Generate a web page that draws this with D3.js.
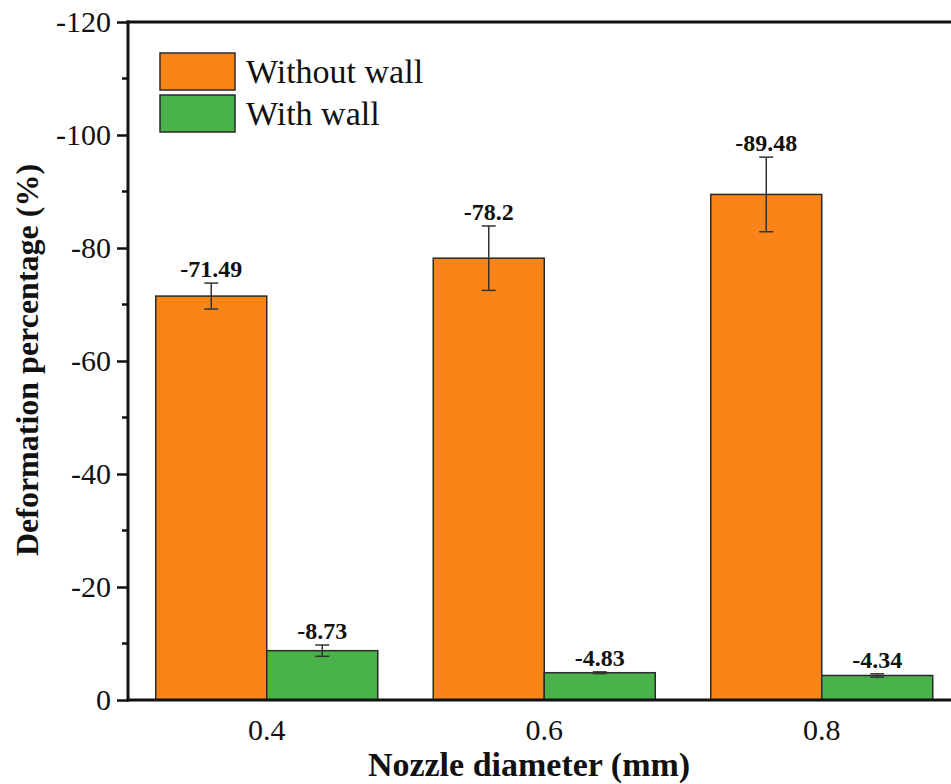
<!DOCTYPE html>
<html>
<head>
<meta charset="utf-8">
<script src="https://cdn.jsdelivr.net/npm/d3@7"></script>
<style>
  html, body { margin: 0; padding: 0; background: #fff; }
  svg { display: block; }
  text { font-family: "Liberation Serif", "Times New Roman", serif; fill: #111; }
</style>
</head>
<body>
<svg id="chart" width="951" height="784"></svg>
<script>
// Nozzle diameters (mm)
const categories = ["0.4", "0.6", "0.8"];
const seriesNames = ["Without wall", "With wall"];
// Mean deformation percentage (%)
const withoutWall = [-71.49, -78.2, -89.48];
const withWall = [-8.73, -4.83, -4.34];
// Standard deviation of each mean
const withoutWallErr = [2.3, 5.7, 6.6];
const withWallErr = [1.0, 0.15, 0.3];
const yTicks = [0, -20, -40, -60, -80, -100, -120];
const colors = ["#F98519", "#4AB24A"];

const svg = d3.select("#chart");
const plotLeft = 128, plotTop = 22, plotBottom = 700;
const plotRight = 128 + 3 * 277.5; // plot runs past the right edge of the page

const x = d3.scaleBand().domain(categories).range([plotLeft, plotRight])
  .paddingInner(0.2).paddingOuter(0.1);
const x1 = d3.scaleBand().domain(seriesNames).range([0, x.bandwidth()]);
const y = d3.scaleLinear().domain([0, -120]).range([plotBottom, plotTop]);

const series = [
  { name: seriesNames[0], values: withoutWall, errs: withoutWallErr, color: colors[0] },
  { name: seriesNames[1], values: withWall, errs: withWallErr, color: colors[1] }
];

const g = svg.append("g");

// bars
series.forEach(s => {
  const grp = g.append("g");
  categories.forEach((c, i) => {
    const v = s.values[i], e = s.errs[i];
    const bx = x(c) + x1(s.name);
    const cx = bx + x1.bandwidth() / 2;
    grp.append("rect")
      .attr("x", bx).attr("y", y(v))
      .attr("width", x1.bandwidth()).attr("height", y(0) - y(v))
      .attr("fill", s.color).attr("stroke", "#2a2a2a").attr("stroke-width", 1.5);
    // error bar
    const hi = y(v - e), lo = y(v + e);
    grp.append("line").attr("x1", cx).attr("x2", cx).attr("y1", hi).attr("y2", lo)
      .attr("stroke", "#333").attr("stroke-width", 1.5);
    [hi, lo].forEach(yy => grp.append("line")
      .attr("x1", cx - 7).attr("x2", cx + 7).attr("y1", yy).attr("y2", yy)
      .attr("stroke", "#333").attr("stroke-width", 1.5));
    // value label
    grp.append("text")
      .attr("x", cx).attr("y", hi - 6)
      .attr("text-anchor", "middle")
      .attr("font-weight", "bold").attr("font-size", 24)
      .text(String(v));
  });
});

// y axis with major and minor ticks
const yAxis = g.append("g").attr("transform", `translate(${plotLeft},0)`)
  .call(d3.axisLeft(y).tickValues(yTicks).tickSize(11).tickPadding(6).tickFormat(d => d === 0 ? "0" : String(d)));
yAxis.select(".domain").remove();
yAxis.selectAll(".tick line").attr("stroke", "#111").attr("stroke-width", 2.5);
yAxis.selectAll(".tick text").attr("font-size", 30).attr("font-family", "Liberation Serif, serif").attr("fill", "#111");
const minor = d3.range(-10, -120, -20);
g.append("g").selectAll("line").data(minor).join("line")
  .attr("x1", plotLeft - 6).attr("x2", plotLeft).attr("y1", d => y(d)).attr("y2", d => y(d))
  .attr("stroke", "#111").attr("stroke-width", 2.5);

// x axis labels
categories.forEach(c => {
  g.append("text")
    .attr("x", x(c) + x.bandwidth() / 2).attr("y", 740)
    .attr("text-anchor", "middle").attr("font-size", 30)
    .text(c);
});

// frame lines
g.append("line").attr("x1", plotLeft).attr("x2", plotLeft).attr("y1", plotTop - 1.5).attr("y2", plotBottom + 1.5)
  .attr("stroke", "#111").attr("stroke-width", 3);
g.append("line").attr("x1", plotLeft - 1.5).attr("x2", 951).attr("y1", plotTop).attr("y2", plotTop)
  .attr("stroke", "#111").attr("stroke-width", 3);
g.append("line").attr("x1", plotLeft - 1.5).attr("x2", 951).attr("y1", plotBottom).attr("y2", plotBottom)
  .attr("stroke", "#111").attr("stroke-width", 3);

// axis titles
svg.append("text")
  .attr("transform", `translate(38,360) rotate(-90)`)
  .attr("text-anchor", "middle").attr("font-weight", "bold").attr("font-size", 32)
  .text("Deformation percentage (%)");
svg.append("text")
  .attr("x", 529).attr("y", 776)
  .attr("text-anchor", "middle").attr("font-weight", "bold").attr("font-size", 34)
  .text("Nozzle diameter (mm)");

// legend
const legend = svg.append("g");
series.forEach((s, i) => {
  const ly = 53 + i * 42;
  legend.append("rect").attr("x", 160).attr("y", ly).attr("width", 75).attr("height", 37)
    .attr("fill", s.color).attr("stroke", "#2a2a2a").attr("stroke-width", 1.5);
  legend.append("text").attr("x", 246).attr("y", ly + 30)
    .attr("font-size", 34).text(s.name);
});
</script>
</body>
</html>
